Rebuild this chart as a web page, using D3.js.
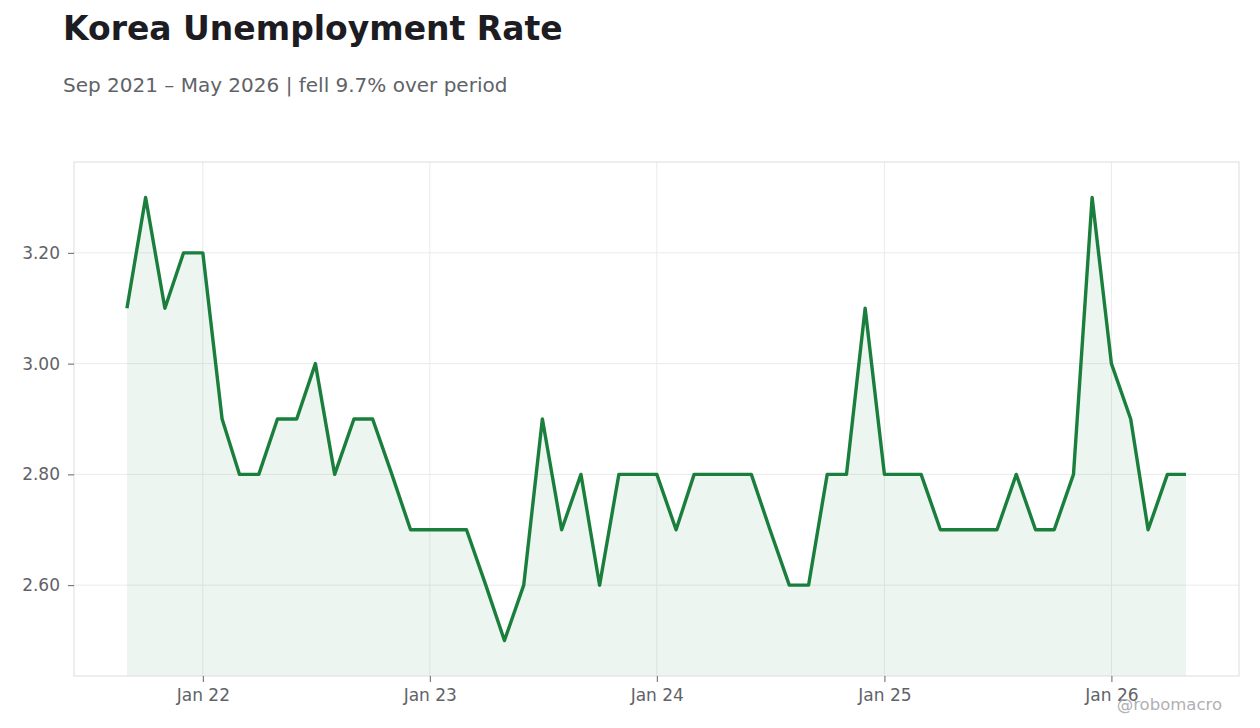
<!DOCTYPE html>
<html>
<head>
<meta charset="utf-8">
<script src="https://cdn.jsdelivr.net/npm/d3@7"></script>
<style>
  body { margin: 0; background: #fff; }
  svg, svg text { font-family: "DejaVu Sans", sans-serif; }
  .grid line { stroke: #ebebeb; }
  .axis text { fill: #5f6368; font-size: 17px; font-family: "DejaVu Sans", sans-serif; }
  .axis line { stroke: #5f6368; }
</style>
</head>
<body>
<div id="vis"></div>
<script>
// monthly readings, Sep 2021 .. May 2026
const months = [
  '2021-09', '2021-10', '2021-11', '2021-12',
  '2022-01', '2022-02', '2022-03', '2022-04', '2022-05', '2022-06', '2022-07', '2022-08', '2022-09', '2022-10', '2022-11', '2022-12',
  '2023-01', '2023-02', '2023-03', '2023-04', '2023-05', '2023-06', '2023-07', '2023-08', '2023-09', '2023-10', '2023-11', '2023-12',
  '2024-01', '2024-02', '2024-03', '2024-04', '2024-05', '2024-06', '2024-07', '2024-08', '2024-09', '2024-10', '2024-11', '2024-12',
  '2025-01', '2025-02', '2025-03', '2025-04', '2025-05', '2025-06', '2025-07', '2025-08', '2025-09', '2025-10', '2025-11', '2025-12',
  '2026-01', '2026-02', '2026-03', '2026-04', '2026-05'
];
const rates = [
  3.1, 3.3, 3.1, 3.2,
  3.2, 2.9, 2.8, 2.8, 2.9, 2.9, 3.0, 2.8, 2.9, 2.9, 2.8, 2.7,
  2.7, 2.7, 2.7, 2.6, 2.5, 2.6, 2.9, 2.7, 2.8, 2.6, 2.8, 2.8,
  2.8, 2.7, 2.8, 2.8, 2.8, 2.8, 2.7, 2.6, 2.6, 2.8, 2.8, 3.1,
  2.8, 2.8, 2.8, 2.7, 2.7, 2.7, 2.7, 2.8, 2.7, 2.7, 2.8, 3.3,
  3.0, 2.9, 2.7, 2.8, 2.8
];
const yTicks = [2.6, 2.8, 3.0, 3.2];
const xTicks = ['2022-01', '2023-01', '2024-01', '2025-01', '2026-01'];

const parse = d3.timeParse('%Y-%m');
const data = months.map((m, i) => ({ date: parse(m), value: rates[i] }));

const W = 1260, H = 728;
const margin = { top: 162, left: 74, bottom: 52, right: 21 };
const width = W - margin.left - margin.right;
const height = H - margin.top - margin.bottom;

const svg = d3.select('#vis')
  .append('svg')
    .attr('width', W)
    .attr('height', H);

svg.append('text')
  .attr('x', 63).attr('y', 40)
  .attr('font-size', 33).attr('font-weight', 'bold')
  .attr('fill', '#1c1c22')
  .text('Korea Unemployment Rate');

const first = rates[0], last = rates[rates.length - 1];
const change = (last - first) / first * 100;
svg.append('text')
  .attr('x', 63).attr('y', 92)
  .attr('font-size', 20)
  .attr('fill', '#5f6368')
  .text('Sep 2021 – May 2026 | ' + (change < 0 ? 'fell ' : 'rose ') + Math.abs(change).toFixed(1) + '% over period');

const g = svg.append('g')
  .attr('transform', 'translate(' + margin.left + ',' + margin.top + ')');

const t0 = data[0].date, t1 = data[data.length - 1].date;
const padT = (t1 - t0) * 0.05;
const x = d3.scaleTime()
  .domain([new Date(+t0 - padT), new Date(+t1 + padT)])
  .range([0, width]);

const lo = d3.min(rates), hi = d3.max(rates);
const padY = (hi - lo) * 0.08;
const y = d3.scaleLinear()
  .domain([lo - padY, hi + padY])
  .range([height, 0]);

// grid
g.append('g').attr('class', 'grid')
  .selectAll('line.h').data(yTicks).join('line')
    .attr('x1', 0).attr('x2', width)
    .attr('y1', d => y(d)).attr('y2', d => y(d));
g.select('.grid')
  .selectAll('line.v').data(xTicks.map(parse)).join('line')
    .attr('class', 'v')
    .attr('y1', 0).attr('y2', height)
    .attr('x1', d => x(d)).attr('x2', d => x(d));

// area + line
g.append('path')
  .datum(data)
  .attr('fill', '#1a7f3c')
  .attr('fill-opacity', 0.08)
  .attr('d', d3.area()
    .x(d => x(d.date))
    .y0(height)
    .y1(d => y(d.value)));

g.append('path')
  .datum(data)
  .attr('fill', 'none')
  .attr('stroke', '#1a7f3c')
  .attr('stroke-width', 3.4)
  .attr('stroke-linejoin', 'round')
  .attr('d', d3.line()
    .x(d => x(d.date))
    .y(d => y(d.value)));

// frame
g.append('rect')
  .attr('width', width).attr('height', height)
  .attr('fill', 'none')
  .attr('stroke', '#dddddd');

// axes
const yAxis = d3.axisLeft(y)
  .tickValues(yTicks)
  .tickFormat(d3.format('.2f'))
  .tickSize(6).tickPadding(8);
g.append('g').attr('class', 'axis').call(yAxis)
  .call(s => s.select('.domain').remove());

const xAxis = d3.axisBottom(x)
  .tickValues(xTicks.map(parse))
  .tickFormat(d3.timeFormat('Jan %y'))
  .tickSize(6).tickPadding(7);
g.append('g').attr('class', 'axis')
  .attr('transform', 'translate(0,' + height + ')')
  .call(xAxis)
  .call(s => s.select('.domain').remove());

svg.append('text')
  .attr('x', 1222).attr('y', 710)
  .attr('text-anchor', 'end')
  .attr('font-size', 16.5)
  .attr('fill', '#b0b0b5')
  .text('@robomacro');
</script>
</body>
</html>
